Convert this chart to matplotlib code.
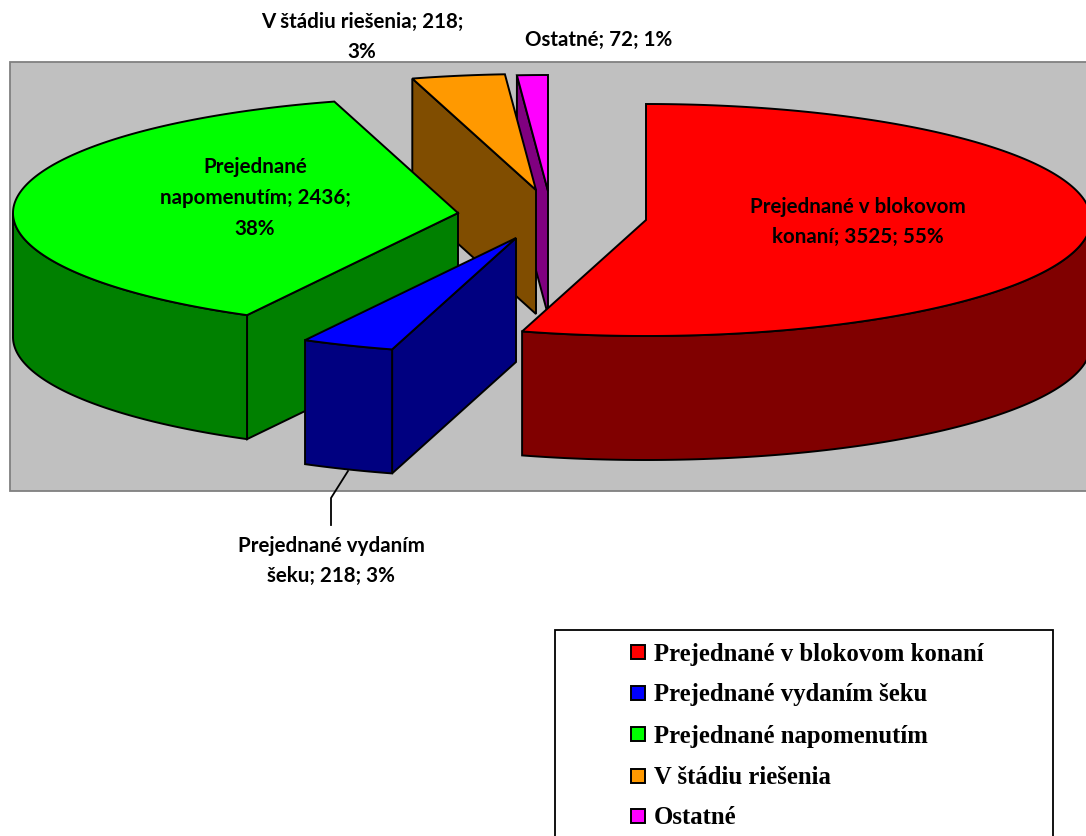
"""
Koláčový graf 3D s vysunutými výsekmi: prejednané priestupky.
"""

import numpy as np
import matplotlib
matplotlib.use("Agg")
import matplotlib.pyplot as plt
from matplotlib.patches import Polygon, Rectangle

NAZVY = ["Prejednané v blokovom konaní", "Prejednané vydaním šeku",
         "Prejednané napomenutím", "V štádiu riešenia", "Ostatné"]
HODNOTY = [3525, 218, 2436, 218, 72]
FARBY = ["#FF0000", "#0000FF", "#00FF00", "#FF9900", "#FF00FF"]
TIENE = ["#800000", "#000080", "#008000", "#804D00", "#800080"]
POPISY = ["Prejednané v blokovom\nkonaní; 3525; 55%",
          "Prejednané vydaním\nšeku; 218; 3%",
          "Prejednané\nnapomenutím; 2436;\n38%",
          "V štádiu riešenia; 218;\n3%",
          "Ostatné; 72; 1%"]

# stredy vysunutych vysekov a polohy popisov (v pixeloch)
STREDY = [(646, 220), (516, 238), (458, 213), (536, 190), (548, 191)]
POLOHY_POPISOV = [(858, 222), (331, 561), (255, 198), (362, 37), (599, 40)]
RX, RY, HLBKA = 445, 116, 124
PORADIE = [4, 3, 2, 1, 0]  # kresli sa odzadu

fig = plt.figure(figsize=(10.86, 8.36), dpi=100)
ax = fig.add_axes([0, 0, 1, 1])
ax.set_xlim(0, 1086)
ax.set_ylim(836, 0)
ax.axis("off")

ax.add_patch(Rectangle((9.5, 62), 1100, 429, facecolor="#C0C0C0", edgecolor="#808080", lw=1.3))


def oblok(stred, t0, t1, dy=0):
    t = np.radians(np.linspace(t0, t1, max(int(abs(t1 - t0) * 2), 2)))
    return np.column_stack([stred[0] + RX * np.sin(t), stred[1] + dy - RY * np.cos(t)])


def plocha(body, farba):
    ax.add_patch(Polygon(body, closed=True, facecolor=farba, edgecolor="black", lw=1.4, joinstyle="miter"))


uhly = np.concatenate([[0], np.cumsum(HODNOTY) / np.sum(HODNOTY) * 360])

for i in PORADIE:
    t0, t1 = uhly[i], uhly[i + 1]
    stred = STREDY[i]
    # stena pri zaciatocnom reze, ak je otocena k divakovi
    if np.cos(np.radians(t0 - 90)) < -1e-6:
        vonku = oblok(stred, t0, t0 + 0.1)[0]
        plocha([stred, vonku, (vonku[0], vonku[1] + HLBKA), (stred[0], stred[1] + HLBKA)], TIENE[i])
    # vonkajsia stena, len predna cast obvodu
    a, b = max(t0, 90), min(t1, 270)
    if b > a:
        plocha(np.vstack([oblok(stred, a, b), oblok(stred, b, a, HLBKA)]), TIENE[i])
    plocha(np.vstack([[stred], oblok(stred, t0, t1)]), FARBY[i])

# odkazova ciara k popisu
ax.plot([331, 331, 348], [525, 498, 471], color="black", lw=1.3)

for popis, (x, y) in zip(POPISY, POLOHY_POPISOV):
    ax.text(x, y, popis, ha="center", va="center", family="Lato", weight="bold",
            fontsize=14.8, color="black", linespacing=1.66)

# legenda
ax.add_patch(Rectangle((555, 629.5), 498, 260, facecolor="white", edgecolor="black", lw=1.3))
RIADKY = [652, 693, 734, 776, 816]
for nazov, farba, y in zip(NAZVY, FARBY, RIADKY):
    ax.add_patch(Rectangle((631, y - 7), 14, 14, facecolor=farba, edgecolor="black", lw=1.4))
    ax.text(654, y + 2, nazov, ha="left", va="center", family="Liberation Serif", weight="bold",
            fontsize=17.8, color="black")

fig.savefig("out.png", dpi=100)
